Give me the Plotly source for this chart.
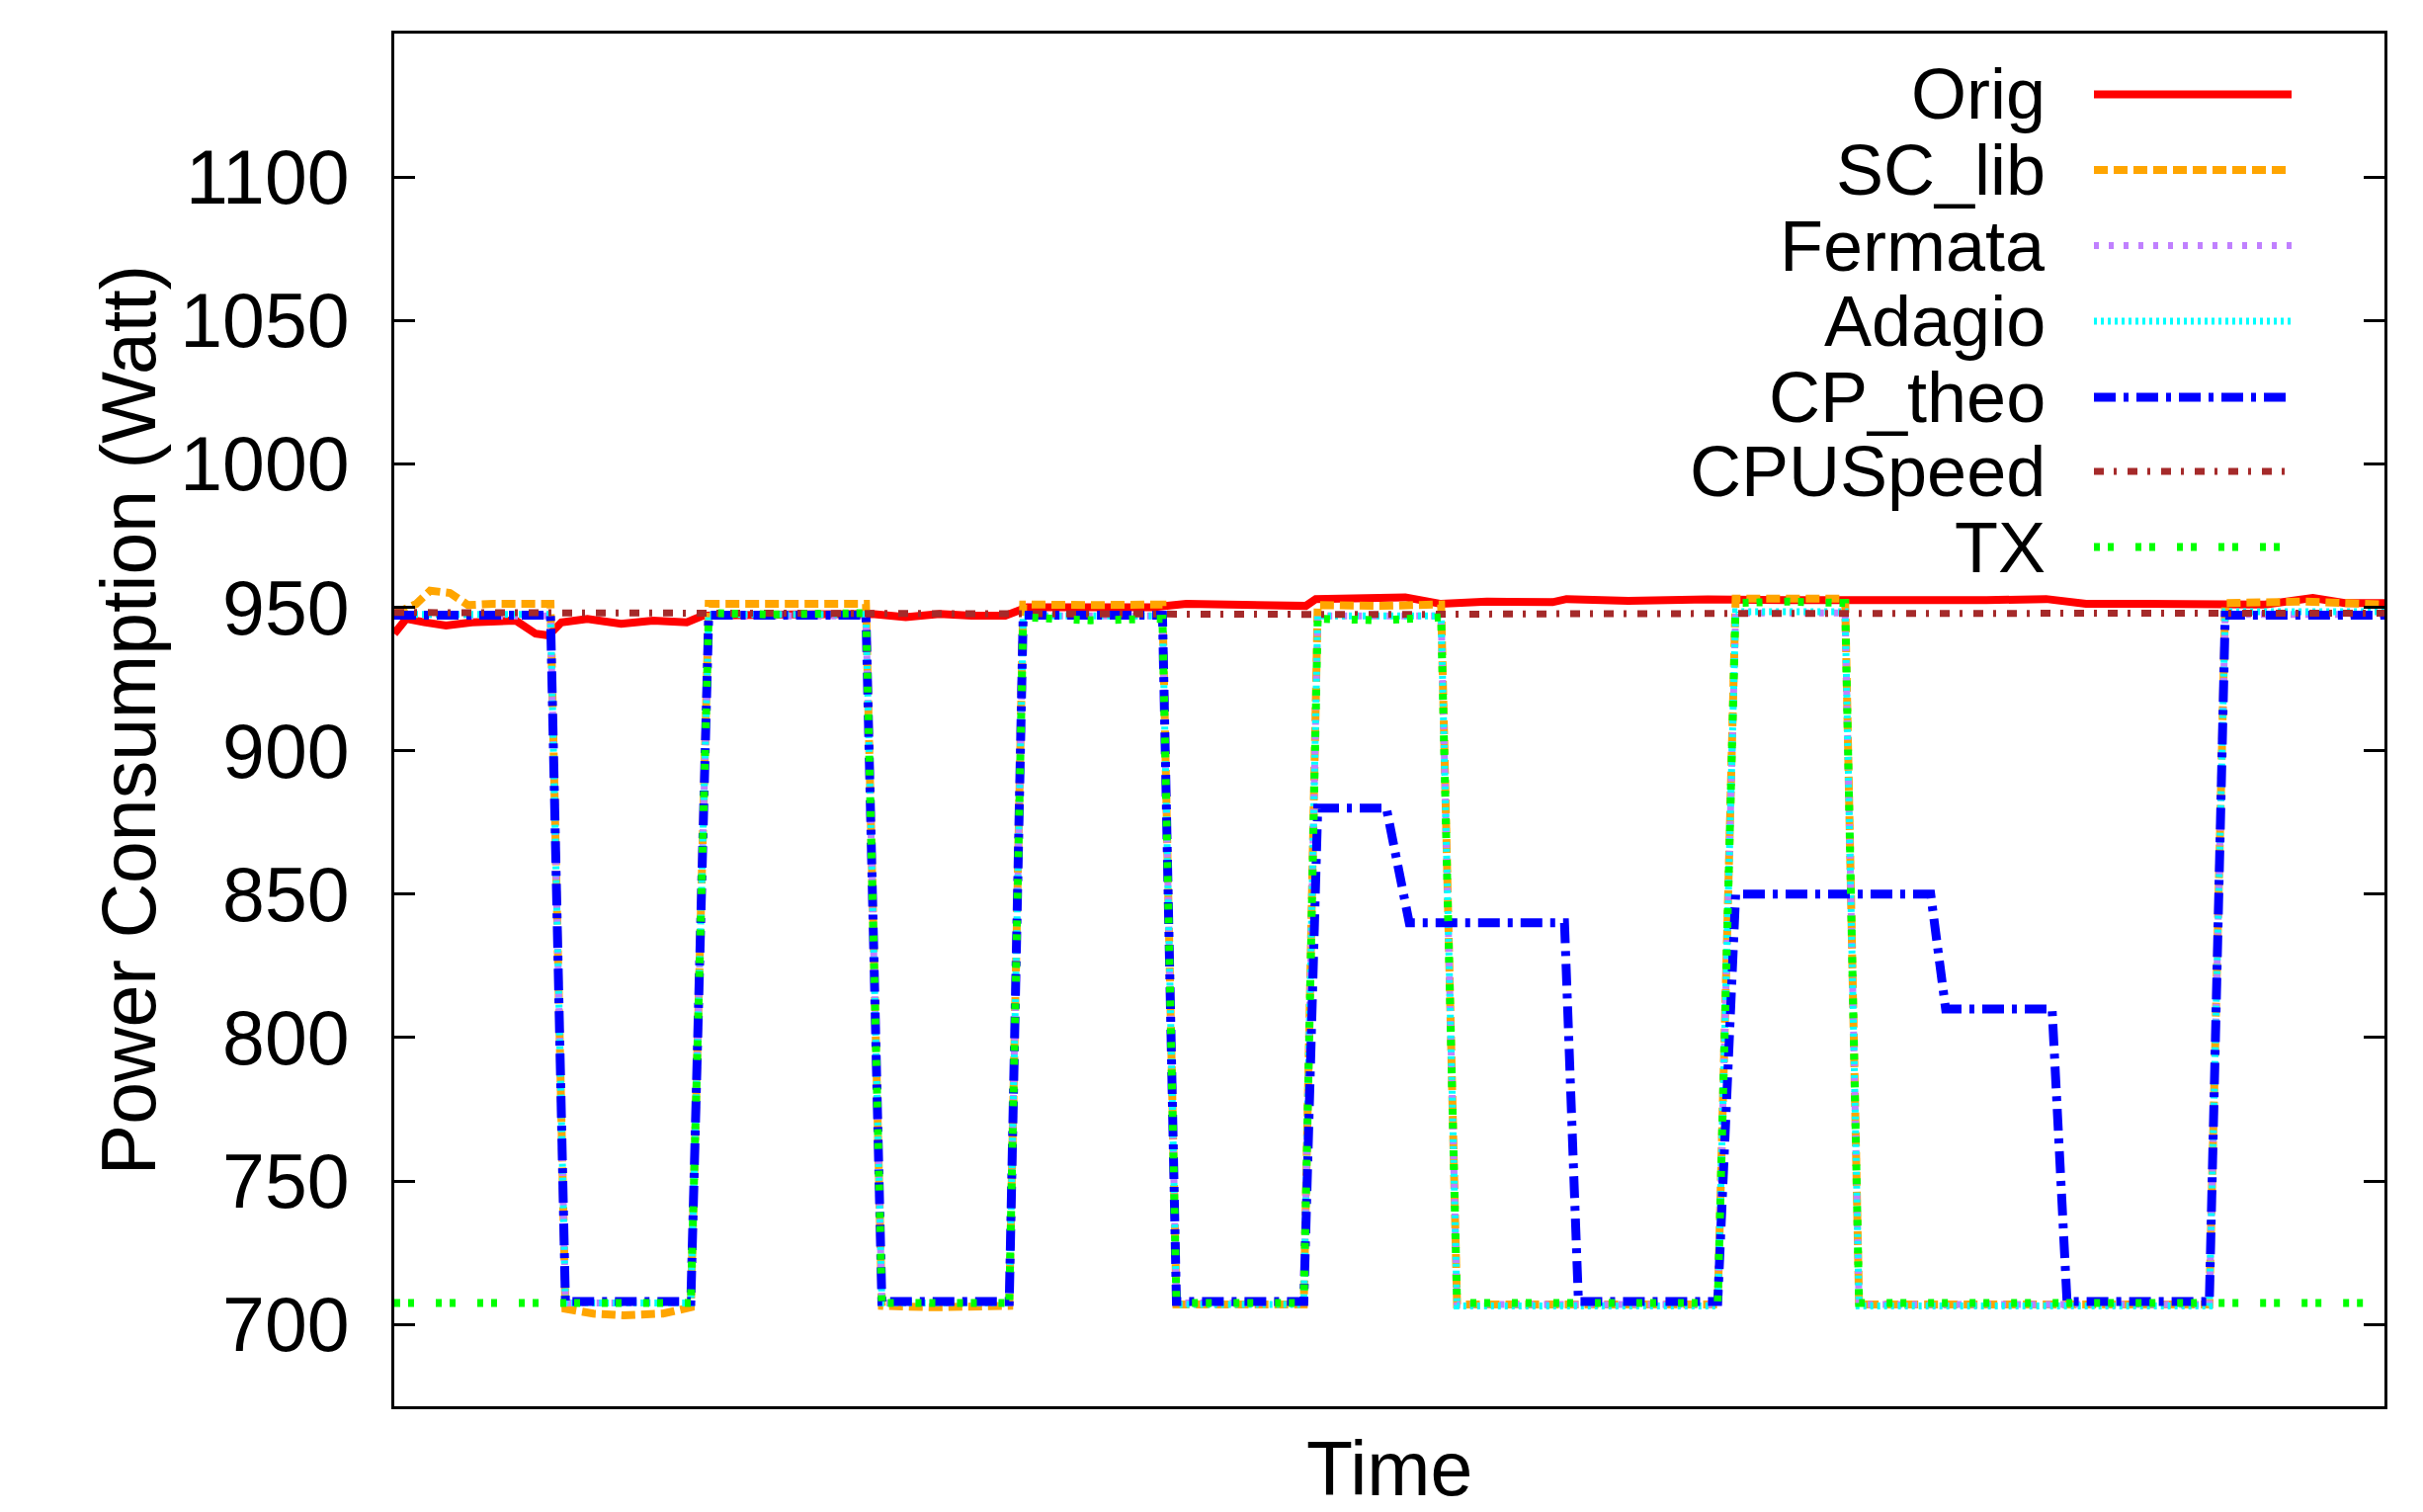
import plotly.graph_objects as go

# ---------------- data (time in arbitrary units 0..100, power in Watt) ----------------
series_names = ["Orig", "SC_lib", "Fermata", "Adagio", "CP_theo", "CPUSpeed", "TX"]

t_orig = [0, 0.6, 1.5, 2.6, 3.9, 6.1, 7.1, 7.75, 8.4, 9.7, 11.4, 13.0, 14.7, 15.5, 20, 24.0, 25.7,
          27.4, 29.0, 30.7, 31.8, 34.8, 38.1, 39.8, 42, 44, 45.8, 46.3, 48.5, 50.8, 52.6, 54.9, 58.2,
          58.9, 62, 66, 70, 75, 80, 83, 85, 88, 91.5, 94, 96.4, 98, 100]
orig = [940.8, 946, 944.8, 943.7, 944.8, 945.4, 940.8, 940.2, 944.8, 946, 944.3, 945.4, 944.8, 947.1,
        947.5, 947.7, 946.6, 947.7, 947.1, 947.1, 950, 950, 950, 951.2, 950.8, 950.3, 950.5, 952.9,
        953.2, 953.5, 951.2, 952, 951.8, 952.9, 952.3, 952.8, 952.5, 952.3, 952.5, 952.9, 951.2,
        951.2, 951.3, 951, 953.3, 951.5, 951.5]

t_sc = [0, 1.1, 1.8, 2.8, 3.7, 5, 7.85, 8.6, 10, 11.5, 13.5, 14.9, 15.8, 19, 23.7, 24.5, 27, 30.9,
        31.6, 35, 38.6, 39.3, 42, 45.7, 46.4, 49.5, 52.6, 53.4, 60, 66.5, 67.4, 70, 72.9, 73.6, 82,
        91.2, 92.0, 96, 100]
sc_lib = [947.7, 951.2, 955.8, 955, 950.8, 951.2, 951.2, 705.5, 703.8, 703.2, 703.8, 706, 951.2, 951,
          951.2, 706.5, 706, 706.5, 951, 950.8, 951, 707, 707, 707, 950.8, 950.5, 951, 707, 707, 707,
          953, 953, 953, 707, 707, 707, 951.5, 952, 951]

t_wave = [0, 7.85, 8.6, 14.9, 15.8, 23.7, 24.5, 30.9, 31.6, 38.6, 39.3, 45.7, 46.4, 52.6, 53.4,
          66.5, 67.4, 72.9, 73.6, 91.2, 92.0, 100]
fermata = [947, 947, 707.5, 707.5, 947, 947, 707.5, 707.5, 947, 947, 707.5, 707.5, 947, 947, 707,
           707, 948, 948, 707, 707, 947.5, 947.5]
adagio = [947.5, 947.5, 707.5, 707.5, 947.5, 947.5, 707.5, 707.5, 947, 947, 707, 707, 947, 947,
          706.5, 706.5, 948.5, 948.5, 706.5, 706.5, 948.5, 948.5]

t_cp = [0, 7.85, 8.6, 14.9, 15.8, 23.7, 24.5, 30.9, 31.6, 38.6, 39.3, 45.7, 46.4, 49.85, 51.0,
        58.8, 59.5, 66.5, 67.4, 77.2, 77.95, 83.3, 84.05, 91.2, 92.0, 100]
cp_theo = [947.3, 947.3, 708, 708, 947.3, 947.3, 708, 708, 947.3, 947.3, 708, 708, 880, 880, 840,
           840, 708, 708, 850, 850, 810, 810, 708, 708, 947.3, 947.3]

t_cpus = [0, 10, 20, 30, 40, 50, 60, 70, 80, 90, 100]
cpuspeed = [948.2, 948, 947.8, 947.7, 947.5, 947.5, 947.8, 948, 948, 947.8, 948]

t_tx = [0, 14.9, 15.8, 19, 23.7, 24.5, 30.9, 31.6, 35, 38.6, 39.3, 45.7, 46.4, 49.5, 52.6, 53.4,
        66.5, 67.4, 70, 72.9, 73.6, 100]
tx = [707.5, 707.5, 948, 947.5, 948, 707.5, 707.5, 946.5, 945.5, 946, 707.5, 707.5, 946, 945.5,
      946.5, 707.5, 707.5, 951.5, 952, 951.5, 707.5, 707.5]

y_ticks = [700, 750, 800, 850, 900, 950, 1000, 1050, 1100]

# ---------------- styles ----------------
colors = ["#FF0000", "#FFA500", "#C080FF", "#00FFFF", "#0000FF", "#A52A2A", "#00FF00"]
dashes = ["solid", "14px,6px", "5px,10px", "3px,4px", "22px,8px,5px,8px", "10px,10px,3px,11px",
          "6px,8px,6px,22px"]
widths = [8, 8, 7, 7, 9, 7, 8]

xs = [t_orig, t_sc, t_wave, t_wave, t_cp, t_cpus, t_tx]
ys = [orig, sc_lib, fermata, adagio, cp_theo, cpuspeed, tx]

FONT = "Liberation Sans, Arial, Helvetica, sans-serif"
FS = 77
FS_KEY = 72

fig = go.Figure()
for name, x, y, c, d, w in zip(series_names, xs, ys, colors, dashes, widths):
    fig.add_trace(go.Scatter(x=x, y=y, mode="lines", name=name,
                             line=dict(color=c, dash=d, width=w), showlegend=False))

# page has an 8px body margin, so the figure is 8px smaller and offset
OFF = 8
L, R, T, B = 399 - OFF, 2413 - OFF, 34 - OFF, 1423 - OFF
FW, FH = 2452 - OFF, 1530 - OFF
W, H = R - L, B - T

# ---------------- gnuplot-like key (text left, sample right) ----------------
row_y = [95.4, 172, 248.6, 325, 402, 477, 553.6]
shapes = []
annotations = []
for i, name in enumerate(series_names):
    yp = (B - (row_y[i] - OFF)) / H
    annotations.append(dict(xref="paper", yref="paper", x=(2071 - OFF - L) / W, y=yp,
                            xanchor="right", yanchor="middle", text=name, showarrow=False,
                            borderpad=0, font=dict(family=FONT, size=FS_KEY, color="black")))
    shapes.append(dict(type="line", xref="paper", yref="paper",
                       x0=(2119 - OFF - L) / W, x1=(2319 - OFF - L) / W, y0=yp, y1=yp,
                       line=dict(color=colors[i], dash=dashes[i], width=widths[i])))

# x-axis title, sitting at the very bottom of the figure
annotations.append(dict(xref="paper", yref="paper", x=0.5, y=-(FH - B) / H,
                        xanchor="center", yanchor="bottom", text="Time", showarrow=False,
                        borderpad=0, font=dict(family=FONT, size=FS, color="black")))

fig.update_layout(
    width=FW, height=FH,
    margin=dict(l=L, r=FW - R, t=T, b=FH - B, autoexpand=False),
    paper_bgcolor="white", plot_bgcolor="white",
    font=dict(family=FONT, size=FS, color="black"),
    shapes=shapes, annotations=annotations, showlegend=False,
)
fig.update_xaxes(range=[0, 100], showticklabels=False, ticks="", showgrid=False, zeroline=False,
                 showline=True, linecolor="black", linewidth=3, mirror=True)
fig.update_yaxes(range=[671.5, 1150], tickvals=y_ticks, ticks="inside", ticklen=21, tickwidth=3,
                 tickcolor="black", showgrid=False, zeroline=False, showline=True,
                 linecolor="black", linewidth=3, mirror="ticks", ticklabelstandoff=27,
                 tickfont=dict(size=FS),
                 title=dict(text="Power Consumption (Watt)", standoff=0, font=dict(size=FS)))

fig.write_html("out.html")
